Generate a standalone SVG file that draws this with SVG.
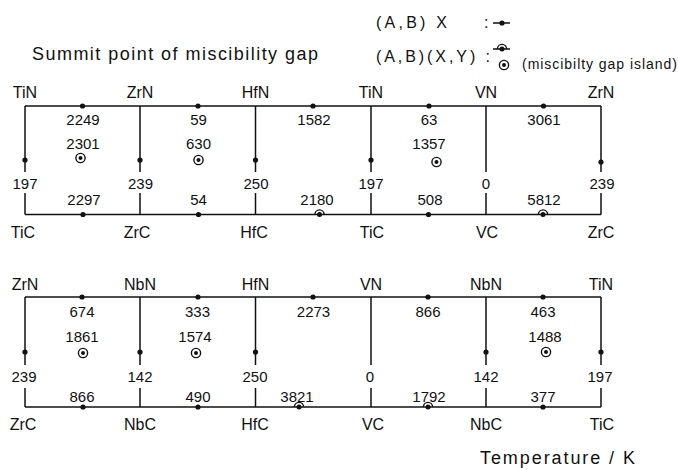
<svg xmlns="http://www.w3.org/2000/svg" xmlns:xlink="http://www.w3.org/1999/xlink" width="678" height="470" viewBox="0 0 678 470">
<style>
text{font-family:"Liberation Sans",Arial,sans-serif;fill:#111}
.lab{font-size:16px;text-anchor:middle}
.num{font-size:15px;text-anchor:middle}
.hd{font-size:18px}
.ln{stroke:#111;stroke-width:1.5;fill:none}
.mk{fill:#111}
.mks{fill:none;stroke:#111;stroke-width:1.4}
</style>
<defs>
<g id="dot"><circle r="2.6" class="mk"/></g>
<g id="half"><path d="M-4.6,0 A4.6,4.6 0 0 1 4.6,0" class="mks"/><circle r="2.5" class="mk"/></g>
<g id="island"><circle r="4.6" class="mks"/><circle r="2" class="mk"/></g>
</defs>
<rect width="678" height="470" fill="#fff"/>

<g id="header">
<text class="hd" x="32" y="60" textLength="286">Summit point of miscibility gap</text>
<text x="376" y="28" font-size="16" textLength="71">(A,B) X</text>
<text x="484" y="28" font-size="16">:</text>
<line x1="493" y1="23" x2="510" y2="23" class="ln"/>
<use xlink:href="#dot" x="502" y="23"/>
<text x="376" y="62" font-size="16" textLength="114">(A,B)(X,Y) :</text>
<line x1="493" y1="49" x2="510" y2="49" class="ln"/>
<use xlink:href="#half" x="502" y="49"/>
<use xlink:href="#island" x="504" y="65"/>
<text x="522" y="69" font-size="14" textLength="155">(miscibilty gap island)</text>
</g>

<g id="connectors">
<line x1="25" y1="106" x2="601" y2="106" class="ln"/>
<line x1="25" y1="214.5" x2="601" y2="214.5" class="ln"/>
<path class="ln" d="M25,106V172M25,193V214.5M140,106V172M140,193V214.5M255.5,106V172M255.5,193V214.5M371,106V172M371,193V214.5M486,106V172M486,193V214.5M601,106V172M601,193V214.5"/>
<line x1="25" y1="297" x2="601" y2="297" class="ln"/>
<line x1="25" y1="407" x2="601" y2="407" class="ln"/>
<path class="ln" d="M25,297V365M25,388V407M140,297V365M140,388V407M255.5,297V365M255.5,388V407M371,297V365M371,388V407M486,297V365M486,388V407M601,297V365M601,388V407"/>
</g>

<g id="markers">
<use xlink:href="#dot" x="82.5" y="106"/>
<use xlink:href="#dot" x="198" y="106"/>
<use xlink:href="#dot" x="313" y="106"/>
<use xlink:href="#dot" x="429" y="106"/>
<use xlink:href="#dot" x="543.5" y="106"/>
<use xlink:href="#dot" x="83" y="214.5"/>
<use xlink:href="#dot" x="198.5" y="214.5"/>
<use xlink:href="#half" x="319.5" y="214.5"/>
<use xlink:href="#dot" x="428.5" y="214.5"/>
<use xlink:href="#half" x="543" y="214.5"/>
<use xlink:href="#dot" x="25" y="160"/>
<use xlink:href="#dot" x="140" y="160"/>
<use xlink:href="#dot" x="255.5" y="160"/>
<use xlink:href="#dot" x="371" y="160"/>
<use xlink:href="#dot" x="601" y="162"/>
<use xlink:href="#island" x="80.5" y="158"/>
<use xlink:href="#island" x="198.5" y="160"/>
<use xlink:href="#island" x="436.5" y="162"/>
<use xlink:href="#dot" x="82" y="297"/>
<use xlink:href="#dot" x="198" y="297"/>
<use xlink:href="#dot" x="313" y="297"/>
<use xlink:href="#dot" x="428" y="297"/>
<use xlink:href="#dot" x="543" y="297"/>
<use xlink:href="#dot" x="83" y="407"/>
<use xlink:href="#dot" x="198" y="407"/>
<use xlink:href="#half" x="299" y="407"/>
<use xlink:href="#half" x="428" y="407"/>
<use xlink:href="#dot" x="543" y="407"/>
<use xlink:href="#dot" x="25" y="352"/>
<use xlink:href="#dot" x="140" y="352"/>
<use xlink:href="#dot" x="255.5" y="352"/>
<use xlink:href="#dot" x="486" y="352"/>
<use xlink:href="#dot" x="601" y="352"/>
<use xlink:href="#island" x="83" y="353"/>
<use xlink:href="#island" x="196" y="353"/>
<use xlink:href="#island" x="546" y="352"/>
</g>

<g id="nodes-top">
<g id="n-TiN-1"><text class="lab" x="25" y="98">TiN</text></g>
<g id="n-ZrN-1"><text class="lab" x="140" y="98">ZrN</text></g>
<g id="n-HfN-1"><text class="lab" x="255.5" y="98">HfN</text></g>
<g id="n-TiN-2"><text class="lab" x="371" y="98">TiN</text></g>
<g id="n-VN-1"><text class="lab" x="486" y="98">VN</text></g>
<g id="n-ZrN-2"><text class="lab" x="601" y="98">ZrN</text></g>
<g id="n-TiC-1"><text class="lab" x="23" y="238">TiC</text></g>
<g id="n-ZrC-1"><text class="lab" x="137" y="238">ZrC</text></g>
<g id="n-HfC-1"><text class="lab" x="254" y="238">HfC</text></g>
<g id="n-TiC-2"><text class="lab" x="372" y="238">TiC</text></g>
<g id="n-VC-1"><text class="lab" x="487" y="238">VC</text></g>
<g id="n-ZrC-2"><text class="lab" x="601" y="238">ZrC</text></g>
</g>

<g id="nodes-bottom">
<g id="n-ZrN-3"><text class="lab" x="25" y="290">ZrN</text></g>
<g id="n-NbN-1"><text class="lab" x="140" y="290">NbN</text></g>
<g id="n-HfN-2"><text class="lab" x="255.5" y="290">HfN</text></g>
<g id="n-VN-2"><text class="lab" x="371" y="290">VN</text></g>
<g id="n-NbN-2"><text class="lab" x="486" y="290">NbN</text></g>
<g id="n-TiN-3"><text class="lab" x="601" y="290">TiN</text></g>
<g id="n-ZrC-3"><text class="lab" x="23" y="430">ZrC</text></g>
<g id="n-NbC-1"><text class="lab" x="140" y="430">NbC</text></g>
<g id="n-HfC-2"><text class="lab" x="255" y="430">HfC</text></g>
<g id="n-VC-2"><text class="lab" x="373" y="430">VC</text></g>
<g id="n-NbC-2"><text class="lab" x="486" y="430">NbC</text></g>
<g id="n-TiC-3"><text class="lab" x="602" y="430">TiC</text></g>
</g>

<g id="values-top">
<text class="num" x="83" y="125">2249</text>
<text class="num" x="198.5" y="125">59</text>
<text class="num" x="314" y="125">1582</text>
<text class="num" x="429" y="125">63</text>
<text class="num" x="544" y="125">3061</text>
<text class="num" x="83" y="149">2301</text>
<text class="num" x="198.5" y="149">630</text>
<text class="num" x="429" y="149">1357</text>
<text class="num" x="25" y="188.5">197</text>
<text class="num" x="140.5" y="188.5">239</text>
<text class="num" x="256" y="188.5">250</text>
<text class="num" x="371" y="188.5">197</text>
<text class="num" x="486" y="188.5">0</text>
<text class="num" x="602" y="188.5">239</text>
<text class="num" x="84" y="205">2297</text>
<text class="num" x="198.5" y="205">54</text>
<text class="num" x="317" y="205">2180</text>
<text class="num" x="430" y="205">508</text>
<text class="num" x="544" y="205">5812</text>
</g>

<g id="values-bottom">
<text class="num" x="82" y="317">674</text>
<text class="num" x="197.5" y="317">333</text>
<text class="num" x="313.5" y="317">2273</text>
<text class="num" x="428" y="317">866</text>
<text class="num" x="543" y="317">463</text>
<text class="num" x="82" y="342">1861</text>
<text class="num" x="195" y="342">1574</text>
<text class="num" x="545" y="342">1488</text>
<text class="num" x="24" y="382">239</text>
<text class="num" x="140" y="382">142</text>
<text class="num" x="255" y="382">250</text>
<text class="num" x="370" y="382">0</text>
<text class="num" x="486" y="382">142</text>
<text class="num" x="600" y="382">197</text>
<text class="num" x="82" y="402">866</text>
<text class="num" x="198" y="402">490</text>
<text class="num" x="297" y="402">3821</text>
<text class="num" x="429" y="402">1792</text>
<text class="num" x="543" y="402">377</text>
</g>

<text class="hd" x="480" y="464" textLength="155">Temperature / K</text>
</svg>
